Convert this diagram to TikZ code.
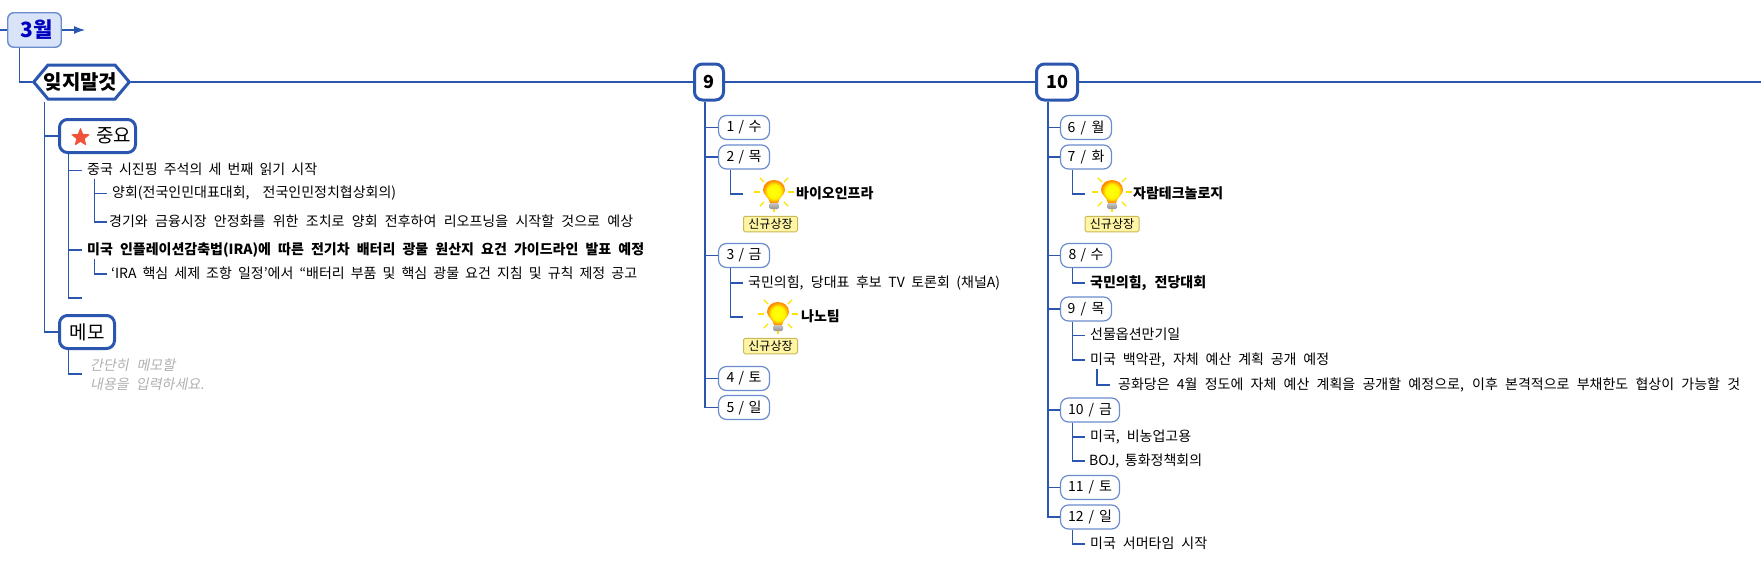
\documentclass[tikz,border=0pt]{standalone}
\usepackage{fontspec}
\setmainfont{Noto Sans CJK KR}
\newfontfamily\slantkr[FakeSlant=0.2]{Noto Sans CJK KR}
\usetikzlibrary{arrows.meta,calc,shapes.geometric,shapes.symbols}
\definecolor{lineblue}{HTML}{2A56B0}
\definecolor{dayblue}{HTML}{6A8CCF}
\definecolor{rootfill}{HTML}{D9E4F8}
\definecolor{rootink}{HTML}{0000C0}
\definecolor{tagfill}{HTML}{FFF5A5}
\definecolor{tagline}{HTML}{C9B95A}
\definecolor{staronly}{HTML}{F0533A}
\definecolor{memogray}{HTML}{B0B0B0}
\newcommand{\fw}[2]{\makebox[#1pt][s]{#2}}
\pgfdeclareradialshading{bulbglow}{\pgfpointorigin}{color(0bp)=(yellow!95!white);color(15bp)=(yellow!95!orange);color(24bp)=(orange!90!yellow);color(50bp)=(orange!90!yellow)}
\tikzset{
  x=1pt,y=-1pt,
  conn/.style={draw=lineblue,line width=1.1pt},
  rootbox/.style={draw=dayblue,fill=rootfill,line width=1.4pt,rounded corners=6pt,minimum width=53.5pt,minimum height=34.5pt,inner sep=0pt,font=\fontsize{21}{25}\selectfont\bfseries,text=rootink},
  hexa/.style={shape=signal,signal to=west and east,signal pointer angle=100,draw=lineblue,line width=3pt,fill=white,minimum height=34pt,inner sep=0pt,font=\fontsize{20}{24}\selectfont\bfseries},
  topic/.style={draw=lineblue,line width=3pt,fill=white,rounded corners=8pt,minimum height=33pt,inner sep=0pt,font=\fontsize{19}{23}\selectfont},
  month/.style={draw=lineblue,line width=3pt,fill=white,rounded corners=8pt,minimum height=36pt,inner sep=0pt,font=\fontsize{18}{22}\selectfont\bfseries},
  daybox/.style={draw=dayblue,line width=1.2pt,fill=white,rounded corners=8pt,minimum width=51pt,minimum height=24pt,inner sep=0pt,font=\fontsize{14}{17}\selectfont},
  txt/.style={anchor=west,inner ysep=0pt,inner xsep=5pt,text height=11pt,text depth=3pt,font=\fontsize{14}{17}\selectfont},
  tagbox/.style={draw=tagline,fill=tagfill,line width=1pt,rounded corners=1.5pt,minimum width=54pt,minimum height=15.5pt,inner sep=0pt,font=\fontsize{12}{14}\selectfont},
  bulb/.pic={
    \foreach \a in {0,45,90,135,180,-45,-135}{
      \draw[line width=1.2pt,draw=yellow!85!orange] (\a:14) -- (\a:20);
    }
    \shade[shading=bulbglow]
      (-4,11) .. controls (-5,5) and (-11,3) .. (-11,-2) .. controls (-11,-8) and (-6,-12) .. (0,-12)
      .. controls (6,-12) and (11,-8) .. (11,-2) .. controls (11,3) and (5,5) .. (4,11) -- cycle;
    \shade[top color=gray!45,bottom color=gray!85,rounded corners=1.5pt] (-5,11) rectangle (5,17);
  },
}
\begin{document}
\begin{tikzpicture}
\useasboundingbox (0,0) rectangle (1761,562);
% free ends
\coordinate (leftend) at (0,30);
\coordinate (arrowend) at (85,30);
\coordinate (rightend) at (1761,82);
% root and main line
\node[rootbox] (root) at (34.5,30) {\hspace{4pt}3월};
\node[hexa] (hex) at (81.5,82) {\makebox[67pt]{\hspace{-2pt}잊지말것}};
\node[month,minimum width=29pt] (mnine) at (709,82) {9};
\node[month,minimum width=41pt] (mten) at (1057,82) {10};
\draw[conn] (leftend) -- (root);
\draw[conn,-{Latex[length=11pt,width=8pt]}] (root) -- (arrowend);
\draw[conn] ($(root.south west)+(12.5,0)$) |- (hex.west);
\draw[conn] (hex.east) -- (mnine.west);
\draw[conn] (mnine.east) -- (mten.west);
\draw[conn] (mten.east) -- (rightend);
% left column
\node[topic,minimum width=76pt] (imp) at (97.5,136) {\hspace{32pt}중요};
\node[star,star points=5,star point ratio=2.3,fill=staronly,draw=staronly,line join=round,line width=.8pt,minimum size=18pt,inner sep=0pt] (impstar) at (80.5,137.5) {};
\node[topic,minimum width=55pt] (memo) at (87,332) {메모};
\coordinate (hexdown) at ($(hex.center)+(-37,20)$);
\draw[conn] (hexdown) |- (imp.west);
\draw[conn] (hexdown) |- (memo.west);
\node[txt] (a1) at (82,170.5) {\fw{230}{중국 시진핑 주석의 세 번째 읽기 시작}};
\node[txt] (a11) at (107,193.5) {\fw{284}{양회(전국인민대표대회, 전국인민정치협상회의)}};
\node[txt,inner xsep=2pt] (a12) at (107,222) {\fw{524}{경기와 금융시장 안정화를 위한 조치로 양회 전후하여 리오프닝을 시작할 것으로 예상}};
\node[txt,font=\fontsize{14}{17}\selectfont\bfseries] (a2) at (82,250) {\fw{557}{미국 인플레이션감축법(IRA)에 따른 전기차 배터리 광물 원산지 요건 가이드라인 발표 예정}};
\node[txt,inner xsep=4pt] (a21) at (107,274) {\fw{526}{‘IRA 핵심 세제 조항 일정’에서 “배터리 부품 및 핵심 광물 요건 지침 및 규칙 제정 공고}};
\coordinate (a3) at (82,298);
\draw[conn] ($(imp.south west)+(10.5,0)$) |- (a1.west);
\draw[conn] ($(imp.south west)+(10.5,0)$) |- (a2.west);
\draw[conn] ($(imp.south west)+(10.5,0)$) |- (a3);
\draw[conn] ($(a1.west)+(12.5,8)$) |- (a11.west);
\draw[conn] ($(a1.west)+(12.5,8)$) |- (a12.west);
\draw[conn] ($(a2.west)+(12.5,9)$) |- (a21.west);
\node[anchor=west,inner ysep=0pt,inner xsep=8pt,align=left,text=memogray,font=\fontsize{14}{19}\selectfont\slantkr] (m1) at (82,375) {\fw{85}{간단히 메모할}\\\fw{114}{내용을 입력하세요.}};
\coordinate (m1end) at (82,374);
\draw[conn] ($(memo.south west)+(10.5,0)$) |- (m1end);
% column 9
\node[daybox] (d1) at (744,127.5) {\fw{35}{1 / 수}};
\node[daybox] (d2) at (744,157) {\fw{35}{2 / 목}};
\node[daybox] (d3) at (744,255.5) {\fw{35}{3 / 금}};
\node[daybox] (d4) at (744,378.5) {\fw{35}{4 / 토}};
\node[daybox] (d5) at (744,407.5) {\fw{35}{5 / 일}};
\foreach \d in {d1,d2,d3,d4,d5}{\draw[conn] ($(mnine.south west)+(12,0)$) |- (\d.west);}
\node[txt,inner xsep=0pt,font=\fontsize{14}{17}\selectfont\bfseries] (bioinfra) at (743,194) {\hspace{53pt}바이오인프라};
\pic at (774,192) {bulb};
\node[tagbox] (tag1) at (770.5,224) {신규상장};
\draw[conn] ($(d2.south west)+(12.5,0)$) |- (bioinfra.west);
\node[txt] (d31) at (743,283) {\fw{252}{국민의힘, 당대표 후보 TV 토론회 (채널A)}};
\node[txt,inner xsep=0pt,font=\fontsize{14}{17}\selectfont\bfseries] (nano) at (743,317) {\hspace{58pt}나노팀};
\pic at (778,314) {bulb};
\node[tagbox] (tag2) at (770.5,346) {신규상장};
\draw[conn] ($(d3.south west)+(12.5,0)$) |- (d31.west);
\draw[conn] ($(d3.south west)+(12.5,0)$) |- (nano.west);
% column 10
\node[daybox] (e6) at (1086,127.5) {\fw{37}{6 / 월}};
\node[daybox] (e7) at (1086,157) {\fw{37}{7 / 화}};
\node[daybox] (e8) at (1086,255.5) {\fw{35}{8 / 수}};
\node[daybox] (e9) at (1086,309) {\fw{37}{9 / 목}};
\node[daybox,minimum width=59pt] (e10) at (1090,410) {\fw{44}{10 / 금}};
\node[daybox,minimum width=59pt] (e11) at (1090,487.5) {\fw{44}{11 / 토}};
\node[daybox,minimum width=59pt] (e12) at (1090,517) {\fw{44}{12 / 일}};
\foreach \d in {e6,e7,e8,e9,e10,e11,e12}{\draw[conn] ($(mten.south west)+(13,0)$) |- (\d.west);}
\node[txt,inner xsep=0pt,font=\fontsize{14}{17}\selectfont\bfseries] (jaram) at (1085,194) {\hspace{48pt}자람테크놀로지};
\pic at (1112,192) {bulb};
\node[tagbox] (tag3) at (1112,224) {신규상장};
\draw[conn] ($(e7.south west)+(12.5,0)$) |- (jaram.west);
\node[txt,font=\fontsize{14}{17}\selectfont\bfseries] (e81) at (1085,283) {\fw{116}{국민의힘, 전당대회}};
\draw[conn] ($(e8.south west)+(12.5,0)$) |- (e81.west);
\node[txt] (e91) at (1085,335.5) {선물옵션만기일};
\node[txt] (e92) at (1085,360) {\fw{239}{미국 백악관, 자체 예산 계획 공개 예정}};
\node[txt,inner xsep=8pt] (e921) at (1110,385) {\fw{622}{공화당은 4월 정도에 자체 예산 계획을 공개할 예정으로, 이후 본격적으로 부채한도 협상이 가능할 것}};
\draw[conn] ($(e9.south west)+(12.5,0)$) |- (e91.west);
\draw[conn] ($(e9.south west)+(12.5,0)$) |- (e92.west);
\draw[conn] ($(e92.west)+(12,9)$) |- (e921.west);
\node[txt] (e101) at (1085,437) {\fw{101}{미국, 비농업고용}};
\node[txt,inner xsep=4pt] (e102) at (1085,461) {\fw{113}{BOJ, 통화정책회의}};
\draw[conn] ($(e10.south west)+(12.5,0)$) |- (e101.west);
\draw[conn] ($(e10.south west)+(12.5,0)$) |- (e102.west);
\node[txt] (e121) at (1085,544) {\fw{117}{미국 서머타임 시작}};
\draw[conn] ($(e12.south west)+(12.5,0)$) |- (e121.west);
\end{tikzpicture}
\end{document}
